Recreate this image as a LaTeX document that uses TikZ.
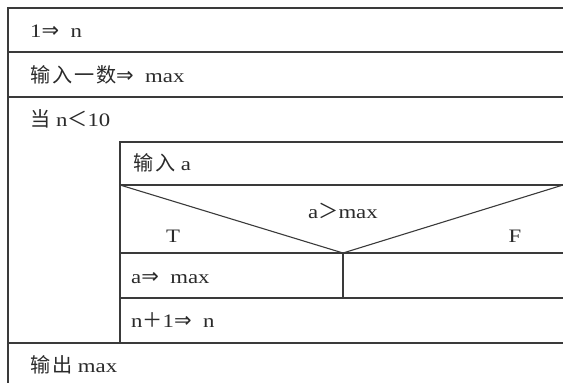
\documentclass[tikz,border=0pt]{standalone}
\usepackage{fontspec}
\setmainfont[FakeStretch=1.2]{Liberation Serif}
\newfontfamily\cjk[Scale=1.06, LetterSpace=9]{Noto Sans CJK SC}
\newfontfamily\symf{DejaVu Sans}
\newcommand{\zh}[1]{{\cjk #1}}
\newcommand{\imp}{{\symf\fontsize{21}{21}\selectfont ⇒}\ \ }
\usetikzlibrary{positioning}
\definecolor{rule}{HTML}{3A3A3A}
\definecolor{ink}{HTML}{2A2A2A}

\tikzset{
  nsline/.style={draw=rule, line width=1.1pt},
  lbl/.style={anchor=base west, inner sep=0pt, text=ink, font=\fontsize{19}{21}\selectfont},
  cbl/.style={anchor=base, inner sep=0pt, text=ink, font=\fontsize{19}{21}\selectfont}
}

\begin{document}
\begin{tikzpicture}[x=1pt, y=-1pt]
  \useasboundingbox (0,0) rectangle (563,383);
  % outer blocks
  \draw[nsline] (563,8) -- (8,8) -- (8,383);
  \draw[nsline] (8,52) -- (563,52);
  \draw[nsline] (8,97) -- (563,97);
  \draw[nsline] (8,343) -- (563,343);
  % loop body
  \draw[nsline] (563,142) -- (120,142) -- (120,343);
  \draw[nsline] (120,185) -- (563,185);
  \draw[nsline] (120,185) -- (343,253) -- (563,185);
  \draw[nsline] (120,253) -- (563,253);
  \draw[nsline] (343,253) -- (343,298);
  \draw[nsline] (120,298) -- (563,298);
  % texts
  \node[lbl] (init) at (30,37) {1\imp n};
  \node[lbl] (read) at (30,82) {\zh{输入一数}\imp max};
  \node[lbl] (loop) at (30,126) {\zh{当} n\zh{＜}10};
  \node[lbl] (inp) at (133,170) {\zh{输入} a};
  \node[cbl] (cond) at (343,218) {a\zh{＞}max};
  \node[cbl] (yes) at (173,242) {T};
  \node[cbl] (no) at (515,242) {F};
  \node[lbl] (asg) at (131,283) {a\imp max};
  \node[lbl] (inc) at (131,327) {n\zh{＋}1\imp n};
  \node[lbl] (out) at (30,372) {\zh{输出} max};
\end{tikzpicture}
\end{document}
